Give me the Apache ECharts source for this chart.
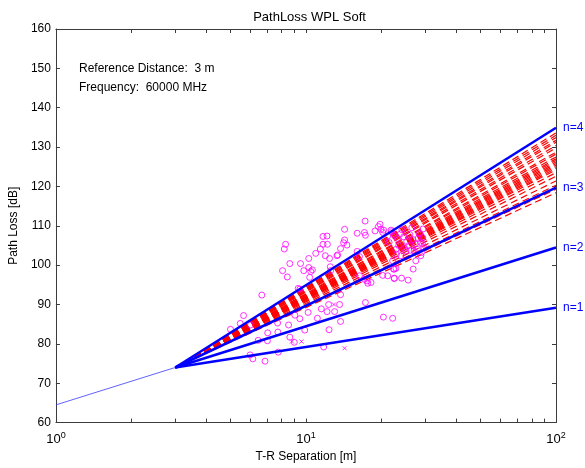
<!DOCTYPE html>
<html><head><meta charset="utf-8">
<script src="https://cdn.jsdelivr.net/npm/echarts@6/dist/echarts.min.js"></script>
<style>html,body{margin:0;padding:0;background:#fff}#c{width:585px;height:468px}</style>
</head><body><div id="c"></div>
<script>
// ---- data ----
const refDist = 3;            // m
const refLoss = 74.0;         // dB at reference distance
const loss1m = 64.5;          // dB at 1 m (free space start)
const maxDist = 100;
const nLabels = ['n=1','n=2','n=3','n=4'];
const nLossAt100 = [89.2, 104.5, 119.7, 134.9];
const redLossAt100 = [133.6,133.0,132.4,131.7,131.2,130.4,129.8,128.7,128.2,127.5,127.0,126.6,126.2,125.8,125.4,125.0,124.6,124.2,123.5,122.6,121.4,120.3,119.3,118.4];
const circles = [
[17.24,111.2],[19.78,110.4],[19.48,109.8],[14.27,109.1],[16.03,108.1],[17.13,108.3],[17.29,107.6],[18.89,108.7],
[19.96,109.1],[20.28,108.3],[20.46,108.9],[21.88,108.9],[21.22,107.4],[8.29,105.3],[8.19,104.1],[11.70,107.3],
[12.14,107.4],[11.70,105.3],[12.18,105.3],[11.42,104.1],[14.27,106.4],[14.14,105.7],[14.58,105.1],[13.75,104.2],
[16.03,103.5],[16.37,102.2],[10.94,103.0],[10.26,101.7],[11.95,102.4],[12.43,101.7],[13.31,102.4],[13.38,102.6],
[9.51,100.4],[8.62,100.4],[9.80,98.6],[10.26,99.4],[10.45,98.4],[10.61,98.8],[10.35,96.9],[8.06,98.6],[8.42,97.0],
[12.51,99.6],[12.55,98.6],[16.37,97.3],[17.67,95.4],[18.21,95.6],[17.56,96.0],[17.13,96.4],[20.28,97.4],[21.22,97.3],
[22.55,96.6],[22.90,99.2],[22.4,99.0],[6.66,92.4],[9.31,94.1],[9.45,93.9],[13.75,92.5],[17.29,90.5],[12.32,90.0],
[13.63,90.0],[11.52,88.9],[12.14,88.2],[13.02,88.2],[10.2,88.0],[9.03,87.3],[9.45,86.4],[11.11,86.5],[20.4,86.8],
[22.22,86.5],[13.75,85.7],[12.37,83.6],[5.63,87.2],[5.46,85.2],[4.99,83.7],[6.0,84.8],[7.70,85.3],[8.52,84.8],
[7.03,82.8],[7.72,83.0],[9.89,83.5],[6.44,80.9],[7.01,80.8],[8.62,81.7],[8.98,80.4],[11.77,79.2],[7.75,77.9],
[5.98,77.2],[6.13,76.2],[6.86,75.6],
[22.22,101.1],[22.55,99.0],[23.97,102.4],[25.09,103.6],[27.07,103.6],[29.24,105.3],[28.79,102.4],[27.5,101.1],
[26.83,99.0],[22.55,96.7],[24.12,96.7],[25.63,96.2],
[22.0,108.5],[22.6,107.5],[23.2,106.8],[23.9,108.0],[24.6,107.2],[25.3,106.0],[26.0,107.8],[26.8,106.5],[27.4,105.4],
[28.1,106.8],[28.7,105.8],[29.3,107.0],[29.6,104.5],[23.5,105.0],[24.8,104.3],[26.2,103.8],[27.9,104.0],[29.0,103.2],
[22.9,104.0],[25.8,105.0],[28.4,108.0],[24.2,109.0],[26.5,109.5],[29.4,109.2],[21.5,105.8],[23.0,102.8]
];
const crosses = [[9.60,80.6],[8.79,80.6],[14.27,78.9],[12.94,90.0]];
const xTickValues = [1,2,3,4,5,6,7,8,9,10,20,30,40,50,60,70,80,90,100];
const xLabelValues = [1,10,100];
const xLabelExp = {1:'0',10:'1',100:'2'};
const yMin = 60, yMax = 160, yStep = 10;
const infoLines = ['Reference Distance:  3 m','Frequency:  60000 MHz'];

// ---- chart ----
const FONT = 'Liberation Sans, Arial, sans-serif';
const AX = '#3c3c3c';
const chart = echarts.init(document.getElementById('c'), null, {renderer:'canvas'});
const series = [];
series.push({type:'scatter', data:circles, symbol:'circle', symbolSize:6, z:3,
  itemStyle:{color:'rgba(0,0,0,0)', borderColor:'#ff00ff', borderWidth:1}, silent:true});
series.push({type:'scatter', data:crosses, symbol:'path://M0,0L10,10M10,0L0,10', symbolSize:4, z:3,
  itemStyle:{color:'rgba(0,0,0,0)', borderColor:'#ff00ff', borderWidth:1}, silent:true});
redLossAt100.forEach(v=>{
  series.push({type:'line', data:[[refDist,refLoss],[maxDist,v]], symbol:'none', z:2,
    lineStyle:{color:'#ff0000', width:1.2, type:[7,4]}, silent:true});
});
series.push({type:'line', data:[[1,loss1m],[refDist,refLoss]], symbol:'none', z:4,
  lineStyle:{color:'#3a3aff', width:0.8}, silent:true});
nLossAt100.forEach((v,i)=>{
  series.push({type:'line', data:[[refDist,refLoss],[maxDist,v]], symbol:'none', z:5,
    lineStyle:{color:'#0000ff', width:2.5}, silent:true,
    endLabel:{show:true, formatter:nLabels[i], color:'#0000ff', fontFamily:FONT, fontSize:12, distance:7}});
});
const tickCommon = {show:true, inside:true, length:4, lineStyle:{color:AX}, customValues:xTickValues};
chart.setOption({
  animation:false,
  backgroundColor:'#fff',
  title:{text:'PathLoss WPL Soft', left:304.5, top:6, textAlign:'center',
    textStyle:{fontFamily:FONT, fontSize:13, fontWeight:'normal', color:'#000'}},
  grid:{left:53, right:29, top:29, bottom:44, containLabel:false},
  xAxis:[
    {type:'log', logBase:10, min:1, max:100, position:'bottom',
     axisLine:{show:true, lineStyle:{color:AX}}, axisTick:tickCommon, minorTick:{show:false}, splitLine:{show:false},
     axisLabel:{customValues:xLabelValues, margin:8, color:'#000', fontFamily:FONT,
       formatter:v=>'{b|10}{s|'+xLabelExp[Math.round(v)]+'}',
       rich:{b:{fontSize:13, fontFamily:FONT, color:'#000'}, s:{fontSize:9, fontFamily:FONT, color:'#000', padding:[0,0,9,0]}}},
     name:'T-R Separation [m]', nameLocation:'middle', nameGap:27,
     nameTextStyle:{fontFamily:FONT, fontSize:12, color:'#000'}},
    {type:'log', logBase:10, min:1, max:100, position:'top',
     axisLine:{show:true, lineStyle:{color:AX}}, axisTick:tickCommon, axisLabel:{show:false}, splitLine:{show:false}}
  ],
  yAxis:[
    {type:'value', min:yMin, max:yMax, interval:yStep, position:'left',
     axisLine:{show:true, lineStyle:{color:AX}}, axisTick:{show:true, inside:true, length:4, lineStyle:{color:AX}},
     splitLine:{show:false}, axisLabel:{color:'#000', fontFamily:FONT, fontSize:12, margin:5},
     name:'Path Loss [dB]', nameLocation:'middle', nameGap:31, nameRotate:90,
     nameTextStyle:{fontFamily:FONT, fontSize:12, color:'#000'}},
    {type:'value', min:yMin, max:yMax, interval:yStep, position:'right',
     axisLine:{show:true, lineStyle:{color:AX}}, axisTick:{show:true, inside:true, length:4, lineStyle:{color:AX}},
     splitLine:{show:false}, axisLabel:{show:false}}
  ],
  graphic:infoLines.map((t,i)=>({type:'text', left:79, top:63+i*19,
    style:{text:t, fontFamily:FONT, fontSize:12, fill:'#000'}})),
  series:series
});
</script></body></html>
